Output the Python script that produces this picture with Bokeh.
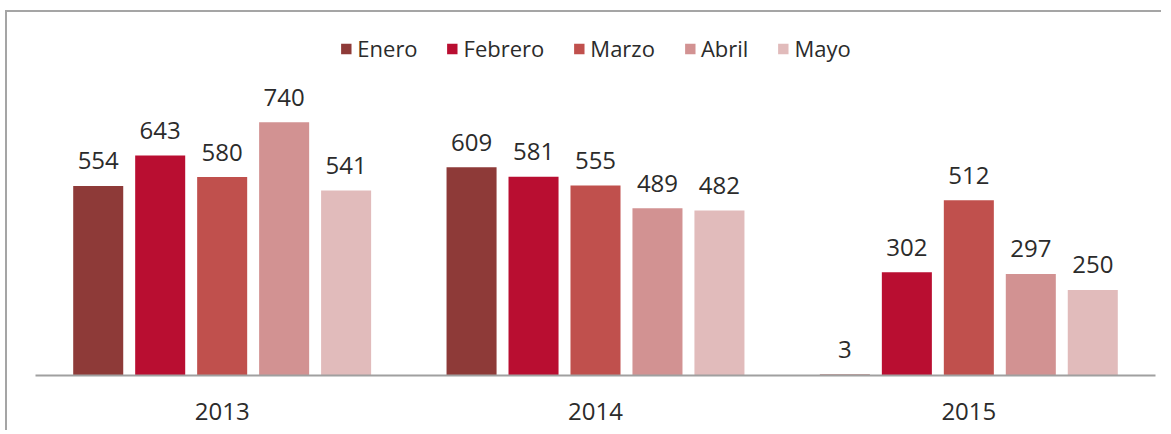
from bokeh.plotting import figure
from bokeh.models import ColumnDataSource, FactorRange, Range1d, Legend, LegendItem
from bokeh.transform import dodge
from bokeh.core.properties import value
from bokeh.embed import file_html
from bokeh.resources import INLINE

years = ["2013", "2014", "2015"]
months = ["Enero", "Febrero", "Marzo", "Abril", "Mayo"]
enero = [554, 609, 3]
febrero = [643, 581, 302]
marzo = [580, 555, 512]
abril = [740, 489, 297]
mayo = [541, 482, 250]
colors = ["#8E3A38", "#B90E31", "#C0504D", "#D29292", "#E1BBBB"]

src = ColumnDataSource(dict(year=years, Enero=enero, Febrero=febrero, Marzo=marzo,
                            Abril=abril, Mayo=mayo,
                            Enero_t=[str(v) for v in enero],
                            Febrero_t=[str(v) for v in febrero],
                            Marzo_t=[str(v) for v in marzo],
                            Abril_t=[str(v) for v in abril],
                            Mayo_t=[str(v) for v in mayo]))

FONT = "Open Sans"
TXT = "#2b2b2b"

p = figure(x_range=FactorRange(*years, range_padding=0), y_range=Range1d(0, 1061),
           width=1156, height=420, output_backend="svg", toolbar_location=None,
           min_border_left=28, min_border_right=8, min_border_top=0, min_border_bottom=57)
p.styles = {"margin-left": "5px", "margin-top": "10px",
            "border-left": "2px solid #a5a5a5", "border-top": "2px solid #a5a5a5"}

offsets = [-0.332, -0.166, 0.0, 0.166, 0.332]
items = []
for m, off, c in zip(months, offsets, colors):
    r = p.vbar(x=dodge("year", off, range=p.x_range), top=m, width=0.134, source=src,
               fill_color=c, line_color=None)
    p.text(x=dodge("year", off, range=p.x_range), y=m, text=m + "_t", source=src,
           text_align="center", text_baseline="middle", y_offset=-25,
           text_font=value(FONT), text_font_size="24px", text_color=TXT)
    items.append(LegendItem(label=m, renderers=[r]))

legend = Legend(items=items, orientation="horizontal", location="top_center",
                glyph_width=13, glyph_height=13, label_standoff=5, spacing=28,
                padding=0, margin=21, border_line_color=None,
                label_text_font=FONT, label_text_font_size="22px", label_text_color=TXT)
p.add_layout(legend, "center")

p.yaxis.visible = False
p.xgrid.grid_line_color = None
p.ygrid.grid_line_color = None
p.outline_line_color = None
p.xaxis.axis_line_color = "#a0a0a0"
p.xaxis.axis_line_width = 2
p.xaxis.major_tick_line_color = None
p.xaxis.minor_tick_line_color = None
p.xaxis.major_label_standoff = 21
p.xaxis.major_label_text_font = FONT
p.xaxis.major_label_text_font_size = "24px"
p.xaxis.major_label_text_color = TXT

open("out.html", "w").write(file_html(p, INLINE))
